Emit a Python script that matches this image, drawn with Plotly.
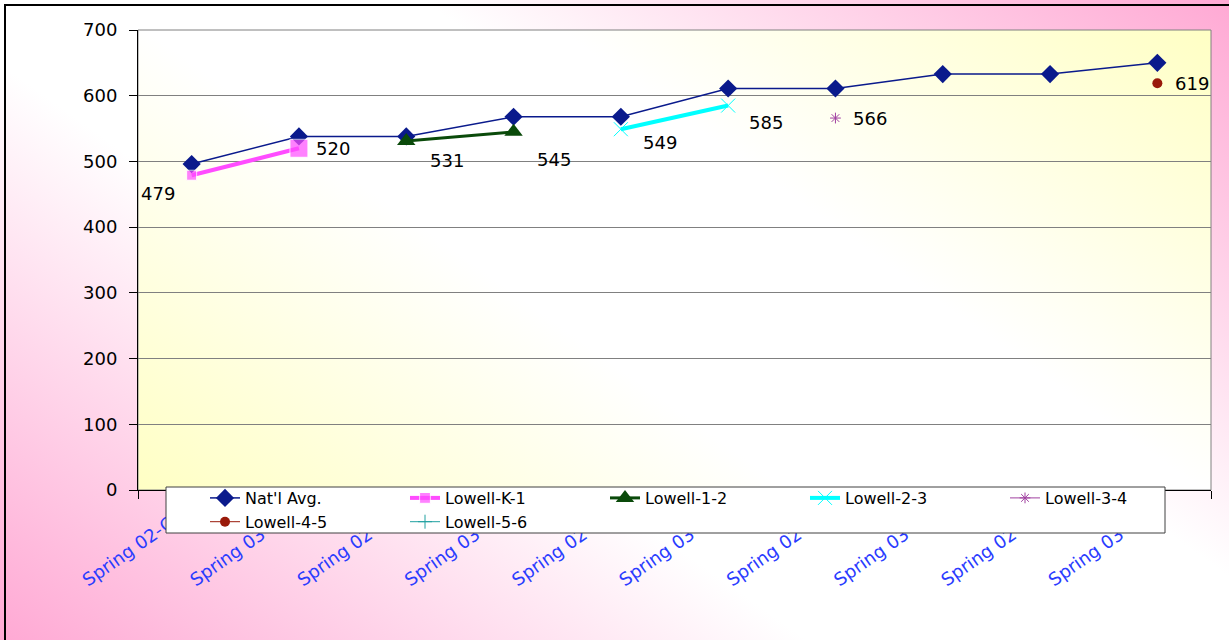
import base64
import plotly.graph_objects as go

# ---- data -----------------------------------------------------------------
categories = [
    "Spring 02-Gr K", "Spring 03-Gr 1", "Spring 02-Gr 1", "Spring 03-Gr 2",
    "Spring 02-Gr 2", "Spring 03-Gr 3", "Spring 02-Gr 3", "Spring 03-Gr 4",
    "Spring 02-Gr 4", "Spring 03-Gr 5",
]
nat_avg = [496, 538, 538, 568, 568, 611, 611, 633, 633, 650]
lowell_k_1 = [479, 520, None, None, None, None, None, None, None, None]
lowell_1_2 = [None, None, 531, 545, None, None, None, None, None, None]
lowell_2_3 = [None, None, None, None, 549, 585, None, None, None, None]
lowell_3_4 = [None, None, None, None, None, None, 566, None, None, None]
lowell_4_5 = [None, None, None, None, None, None, None, None, None, 619]
lowell_5_6 = [None] * 10
y_ticks = [0, 100, 200, 300, 400, 500, 600, 700]

# ---- canvas geometry ------------------------------------------------------
W, H = 1229, 640
ML, MR, MT, MB = 138, 18, 30, 150
PW, PH = W - ML - MR, H - MT - MB
STRETCH = 1.4          # chart artwork is drawn wide: horizontal stretch factor
FONT = "DejaVu Sans, Verdana, sans-serif"


def diag_gradient(w, h, edge, centre):
    """SVG data URI: diagonal gradient, coloured bottom-left / top-right corners."""
    vw = w / STRETCH
    d = (vw + h) / 2.0
    svg = (
        f'<svg xmlns="http://www.w3.org/2000/svg" width="{w}" height="{h}" '
        f'viewBox="0 0 {vw:.1f} {h}" preserveAspectRatio="none">'
        f'<defs><linearGradient id="g" gradientUnits="userSpaceOnUse" '
        f'x1="0" y1="{h}" x2="{d:.1f}" y2="{h - d:.1f}">'
        f'<stop offset="0" stop-color="{edge}"/>'
        f'<stop offset="0.38" stop-color="{centre}"/>'
        f'<stop offset="0.62" stop-color="{centre}"/>'
        f'<stop offset="1" stop-color="{edge}"/>'
        f'</linearGradient></defs>'
        f'<rect x="0" y="0" width="{vw:.1f}" height="{h}" fill="url(#g)"/></svg>'
    )
    return "data:image/svg+xml;base64," + base64.b64encode(svg.encode()).decode()


def px_x(px):
    return (px - ML) / PW


def px_y(py):
    return (MT + PH - py) / PH


chart_bg = diag_gradient(W, H, "#FFA9D4", "#FFFFFF")
plot_bg = diag_gradient(PW, PH, "#FFFFC4", "#FFFFFF")

fig = go.Figure()

# ---- series ---------------------------------------------------------------
fig.add_trace(go.Scatter(
    x=categories, y=nat_avg, name="Nat'l Avg.", mode="lines+markers",
    line=dict(color="#0A1A8C", width=1.5),
    marker=dict(symbol="diamond", size=14, color="#0A1A8C")))
fig.add_trace(go.Scatter(
    x=categories, y=lowell_k_1, name="Lowell-K-1", mode="lines+markers",
    line=dict(color="#FF4CFF", width=4),
    marker=dict(symbol="square", size=[10, 18] + [10] * 8, color="#FF4CFF")))
fig.add_trace(go.Scatter(
    x=categories, y=lowell_1_2, name="Lowell-1-2", mode="lines+markers",
    line=dict(color="#0A4A0A", width=3),
    marker=dict(symbol="triangle-up", size=16, color="#0A4A0A")))
fig.add_trace(go.Scatter(
    x=categories, y=lowell_2_3, name="Lowell-2-3", mode="lines+markers",
    line=dict(color="#00FFFF", width=4),
    marker=dict(symbol="x-thin-open", size=14, color="#00FFFF",
                line=dict(width=1, color="#00FFFF"))))
fig.add_trace(go.Scatter(
    x=categories, y=lowell_3_4, name="Lowell-3-4", mode="lines+markers",
    line=dict(color="#A040A0", width=1),
    marker=dict(symbol="asterisk-open", size=9, color="#A040A0",
                line=dict(width=1, color="#A040A0"))))
fig.add_trace(go.Scatter(
    x=categories, y=lowell_4_5, name="Lowell-4-5", mode="lines+markers",
    line=dict(color="#991A0A", width=1),
    marker=dict(symbol="circle", size=10, color="#991A0A")))
fig.add_trace(go.Scatter(
    x=categories, y=lowell_5_6, name="Lowell-5-6", mode="lines+markers",
    line=dict(color="#20A0A0", width=1),
    marker=dict(symbol="cross-thin-open", size=10, color="#20A0A0",
                line=dict(width=1, color="#20A0A0"))))

# ---- value labels on the Lowell series ------------------------------------
label_offsets = {  # (series, index) -> (xshift, yshift) in px
    ("k1", 0): (-34, -18), ("k1", 1): (34, 0),
    ("12", 2): (41, -19), ("12", 3): (40, -28),
    ("23", 4): (39, -13), ("23", 5): (38, -17),
    ("34", 6): (35, 0), ("45", 9): (35, 0),
}
for key, series in (("k1", lowell_k_1), ("12", lowell_1_2), ("23", lowell_2_3),
                    ("34", lowell_3_4), ("45", lowell_4_5)):
    for i, v in enumerate(series):
        if v is None:
            continue
        dx, dy = label_offsets.get((key, i), (35, 0))
        fig.add_annotation(
            x=categories[i], y=v, text=str(v), showarrow=False,
            xshift=dx, yshift=dy, font=dict(family=FONT, size=18, color="black"))

# ---- layout ---------------------------------------------------------------
fig.update_layout(
    width=W, height=H,
    margin=dict(l=ML, r=MR, t=MT, b=MB, pad=0),
    paper_bgcolor="white", plot_bgcolor="rgba(0,0,0,0)",
    font=dict(family=FONT, size=16, color="black"),
    images=[
        dict(source=chart_bg, xref="paper", yref="paper",
             x=px_x(0), y=px_y(0), sizex=W / PW, sizey=H / PH,
             xanchor="left", yanchor="top", sizing="stretch", layer="below"),
        dict(source=plot_bg, xref="paper", yref="paper",
             x=0, y=1, sizex=1, sizey=1,
             xanchor="left", yanchor="top", sizing="stretch", layer="below"),
    ],
    shapes=[
        # chart frame
        dict(type="rect", xref="paper", yref="paper",
             x0=px_x(5), x1=px_x(W + 40), y0=px_y(H + 40), y1=px_y(5),
             line=dict(color="black", width=2), layer="below"),
        # plot-area border
        dict(type="rect", xref="paper", yref="paper", x0=0, x1=1, y0=0, y1=1,
             line=dict(color="#808080", width=1), layer="below"),
        # legend box
        dict(type="rect", xref="paper", yref="paper",
             x0=px_x(166), x1=px_x(1165), y0=px_y(533), y1=px_y(487),
             fillcolor="white", line=dict(color="#404040", width=1), layer="above"),
    ],
    legend=dict(
        orientation="h", x=px_x(205), y=px_y(481),
        xanchor="left", yanchor="top",
        bgcolor="rgba(0,0,0,0)", borderwidth=0,
        entrywidth=155, entrywidthmode="pixels",
        font=dict(family=FONT, size=16, color="black"),
        traceorder="normal",
    ),
    showlegend=True,
)
fig.update_xaxes(
    type="category", range=[-0.5, len(categories) - 0.5],
    showgrid=False, showline=True, linecolor="black", linewidth=1,
    ticks="outside", ticklen=8, tickcolor="black", tickson="boundaries",
    tickangle=-35, tickfont=dict(family=FONT, size=18, color="#2A3CFF"),
    automargin=False, zeroline=False,
)
fig.update_yaxes(
    range=[0, 700], tickvals=y_ticks,
    showgrid=True, gridcolor="#808080", gridwidth=1,
    showline=True, linecolor="black", linewidth=1,
    ticks="outside", ticklen=8, tickcolor="black",
    ticklabelstandoff=8,
    tickfont=dict(family=FONT, size=18, color="black"),
    automargin=False, zeroline=False,
)

fig.write_html("out.html")
